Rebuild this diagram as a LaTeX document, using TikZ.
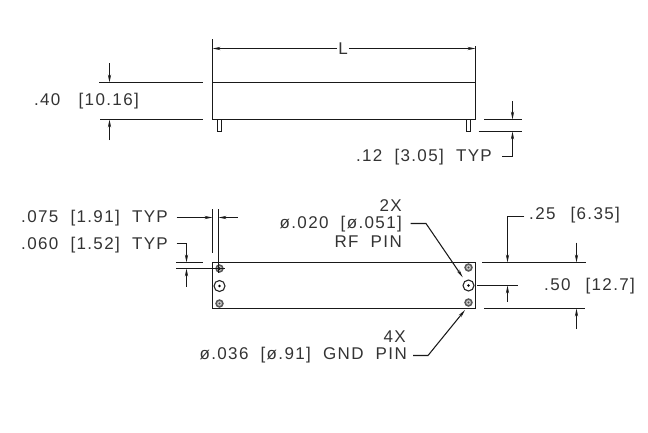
\documentclass[tikz,border=0pt]{standalone}
\usepackage{fontspec}
\setmainfont[LetterSpace=8]{Liberation Sans}
\usetikzlibrary{arrows.meta}
\tikzset{
  dimline/.style={line width=1.05pt,black!90},
  dimarrow/.style={dimline,-{Stealth[length=8pt,width=3.2pt]}},
  outline/.style={line width=1.2pt,black!90},
  dimtext/.style={inner sep=0pt,font=\fontsize{17}{20}\selectfont,text=black!80},
  gndpin/.style={draw=black!65,line width=1.6pt,fill=black!20,radius=3.4},
  rfpin/.style={draw=black!85,line width=1.1pt,fill=white,radius=5.5}
}
\begin{document}
\begin{tikzpicture}[x=1pt,y=-1pt]
\useasboundingbox (0,0) rectangle (648,432);
\coordinate (tl) at (212.5,82.5);
\coordinate (tr) at (475.5,82.5);
\coordinate (bl) at (212.5,119.5);
\coordinate (br) at (475.5,119.5);
\draw [outline] (212.5,39) -- (bl) -- (br) -- (475.5,46);
\draw [outline] (tl) -- (tr);
\draw [dimline] (217.5,119.5) -- (217.5,131.5) -- (221.5,131.5) -- (221.5,119.5);
\draw [dimline] (466.5,119.5) -- (466.5,131.5) -- (470.5,131.5) -- (470.5,119.5);
\node [dimtext] (len) at (343,49) {L};
\draw [dimarrow] (len.west) ++(-1,-0.5) -- (212.5,48.5);
\draw [dimarrow] (len.east) ++(1,-0.5) -- (475.5,48.5);
\draw [dimline] (99,82.5) -- (203,82.5);
\draw [dimline] (100,119.5) -- (203,119.5);
\draw [dimarrow] (109.5,63) -- (109.5,82.5);
\draw [dimarrow] (109.5,140) -- (109.5,119.5);
\node [dimtext,anchor=east] (height) at (139,101) {.40\ \ \ [10.16]};
\draw [dimline] (484,119.5) -- (522,119.5);
\draw [dimline] (478.7,131.5) -- (522,131.5);
\draw [dimarrow] (512.5,101) -- (512.5,119.5);
\node [dimtext,anchor=east] (pinlen) at (492,157) {.12\ \ [3.05]\ \ TYP};
\coordinate (pinlenend) at (502,156.5);
\draw [dimarrow] (pinlenend) -- (512.5,156.5) -- (512.5,131.5);
\draw [outline] (212.5,262.5) rectangle (475.5,308.5);
\foreach \px/\py/\pname in {219.5/268.5/a,219.5/303.5/b,468.5/267.5/c,468.5/302.5/d}
  \draw [gndpin] (\px,\py) circle coordinate (gnd\pname);
\fill [black!90] (219.5,268.5) circle[radius=1.5];
\foreach \px/\py in {219.5/303.5,468.5/267.5,468.5/302.5}
  \fill [black!70] (\px,\py) circle[radius=1.2];
\foreach \px/\py in {219.5/286,468.5/285.5}{
  \draw [rfpin] (\px,\py) circle;
  \fill (\px,\py) circle[radius=1.3];
}
\draw [dimline] (212.5,209.3) -- (212.5,253);
\draw [dimline] (218.5,209.3) -- (218.5,272.7);
\draw [dimarrow] (176.7,217.5) -- (212.5,217.5);
\draw [dimarrow] (237.7,217.5) -- (218.5,217.5);
\node [dimtext,anchor=east] (pitchx) at (168,218) {.075\ \ [1.91]\ \ TYP};
\draw [dimline] (176,262.5) -- (202.7,262.5);
\draw [dimline] (176,268.5) -- (225,268.5);
\node [dimtext,anchor=east] (pitchy) at (168,245) {.060\ \ [1.52]\ \ TYP};
\coordinate (pitchyend) at (176.5,243.5);
\draw [dimarrow] (pitchyend) -- (186.5,243.5) -- (186.5,262.5);
\draw [dimarrow] (186.5,286.7) -- (186.5,268.5);
\node [dimtext,anchor=east] (rfa) at (402,205.7) {2X};
\node [dimtext,anchor=east] (rfb) at (402,224) {ø.020\ \ [ø.051]};
\node [dimtext,anchor=east] (rfc) at (402,242) {RF\ \ PIN};
\coordinate (rfend) at (410.7,223.5);
\coordinate (rftip) at (462.7,277.3);
\draw [dimarrow] (rfend) -- (426,223.5) -- (rftip);
\node [dimtext,anchor=east] (gnda) at (406,336.7) {4X};
\node [dimtext,anchor=east] (gndb) at (407,354.7) {ø.036\ \ [ø.91]\ \ GND\ \ PIN};
\coordinate (gndend) at (413,355.5);
\coordinate (gndtip) at (465,310);
\draw [dimarrow] (gndend) -- (428,355.5) -- (gndtip);
\draw [dimline] (482,262.5) -- (586,262.5);
\draw [dimline] (484,308.5) -- (585.3,308.5);
\draw [dimline] (477,285.5) -- (517.7,285.5);
\node [dimtext,anchor=west] (offset) at (529,215) {.25\ \ \,[6.35]};
\coordinate (offsetend) at (524.3,216.5);
\draw [dimarrow] (offsetend) -- (507.5,216.5) -- (507.5,262.5);
\draw [dimarrow] (507.5,301.7) -- (507.5,285.5);
\node [dimtext,anchor=west] (span) at (544,286) {.50\ \ \,[12.7]};
\draw [dimarrow] (576.5,242.7) -- (576.5,262.5);
\draw [dimarrow] (576.5,329) -- (576.5,308.5);
\end{tikzpicture}
\end{document}
